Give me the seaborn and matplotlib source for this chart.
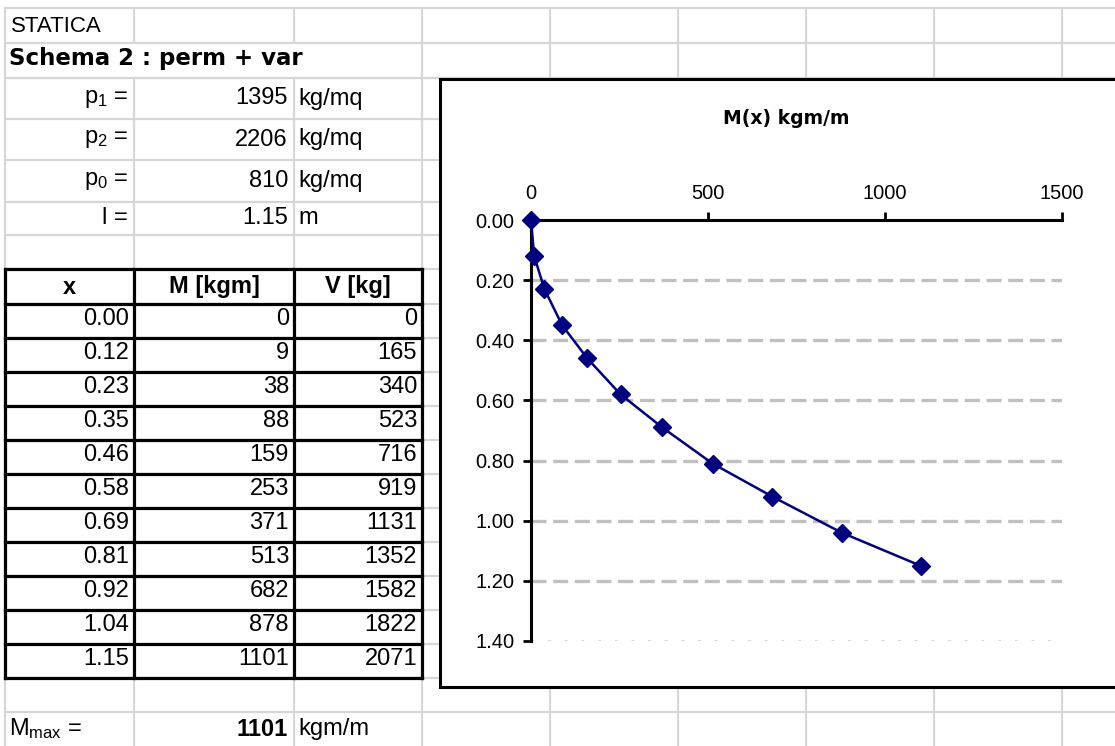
import matplotlib
matplotlib.use("Agg")
import matplotlib.pyplot as plt
from matplotlib.patches import Rectangle
import numpy as np
import pandas as pd
import seaborn as sns

# ---------------- data ----------------
sheet_title = "STATICA"
scheme_title = "Schema 2 : perm + var"
param_labels = [r"p$_1$ =", r"p$_2$ =", r"p$_0$ =", "l ="]
param_values = ["1395", "2206", "810", "1.15"]
param_units = ["kg/mq", "kg/mq", "kg/mq", "m"]
table_headers = ["x", "M [kgm]", "V [kg]"]
x_pos = [0.00, 0.12, 0.23, 0.35, 0.46, 0.58, 0.69, 0.81, 0.92, 1.04, 1.15]
moment = [0, 9, 38, 88, 159, 253, 371, 513, 682, 878, 1101]
shear = [0, 165, 340, 523, 716, 919, 1131, 1352, 1582, 1822, 2071]
m_max_label = r"M$_{\mathrm{max}}$ ="
m_max_value = "1101"
m_max_unit = "kgm/m"
chart_title = "M(x) kgm/m"
x_ticks = [0, 500, 1000, 1500]
y_ticks = [0.0, 0.2, 0.4, 0.6, 0.8, 1.0, 1.2, 1.4]

# ---------------- style ----------------
sns.set_theme(style="white")
plt.rcParams["font.family"] = ["Liberation Sans", "DejaVu Sans"]
plt.rcParams["mathtext.fontset"] = "custom"
plt.rcParams["mathtext.rm"] = "Liberation Sans"
plt.rcParams["mathtext.it"] = "Liberation Sans:italic"
plt.rcParams["mathtext.bf"] = "Liberation Sans:bold"
plt.rcParams["text.color"] = "black"
plt.rcParams["axes.labelcolor"] = "black"
plt.rcParams["xtick.color"] = "black"
plt.rcParams["ytick.color"] = "black"

W, H = 1115, 746
fig = plt.figure(figsize=(W / 100, H / 100), dpi=100)
fig.patch.set_facecolor("white")

bg = fig.add_axes([0, 0, 1, 1])
bg.set_xlim(0, W)
bg.set_ylim(H, 0)
bg.axis("off")

GRID = "#d6d6d6"
glw = 1.6
col_x = [5, 134, 294, 422, 550, 678, 806, 934, 1062]
data_rows = list(np.linspace(304, 678, len(x_pos) + 1))
row_y = [8, 43, 78, 119, 160, 202, 235, 269] + data_rows + [712]

# spreadsheet gridlines
for cx in col_x:
    if cx in (134, 294):
        bg.plot([cx, cx], [8, 43], color=GRID, lw=glw, zorder=1)
        bg.plot([cx, cx], [78, H], color=GRID, lw=glw, zorder=1)
    else:
        bg.plot([cx, cx], [8, H], color=GRID, lw=glw, zorder=1)
for ry in row_y:
    bg.plot([5, W], [ry, ry], color=GRID, lw=glw, zorder=1)

# chart box (over the grid)
bg.add_patch(Rectangle((440, 79), 700, 608, facecolor="white",
                       edgecolor="black", lw=2.2, zorder=3))

FS = 17
TXT = "black"
# header texts
bg.text(11, 26, sheet_title, fontsize=16, ha="left", va="center", zorder=4, color=TXT)
bg.text(9, 59, scheme_title, fontsize=16.5, fontweight="bold", ha="left",
        va="center", zorder=4, family=["DejaVu Sans"], color=TXT)

param_rows = [(78, 119), (119, 160), (160, 202), (202, 235)]
for (t, b), lab, val, unit in zip(param_rows, param_labels, param_values, param_units):
    yc = (t + b) / 2
    bg.text(128, yc, lab, fontsize=FS, ha="right", va="center", zorder=4, color=TXT)
    bg.text(288, yc, val, fontsize=FS, ha="right", va="center", zorder=4, color=TXT)
    bg.text(298, yc, unit, fontsize=FS, ha="left", va="center", zorder=4, color=TXT)

# black table
tx = [5, 134, 294, 422]
ty = [269] + data_rows
for cx in tx:
    bg.plot([cx, cx], [269, 678], color="black", lw=2.3, zorder=4, solid_capstyle="projecting")
for ry in ty:
    bg.plot([5, 422], [ry, ry], color="black", lw=2.3, zorder=4, solid_capstyle="projecting")

for i, h in enumerate(table_headers):
    bg.text((tx[i] + tx[i + 1]) / 2, 287, h, fontsize=FS, fontweight="bold",
            ha="center", va="center", zorder=5, color=TXT)

for i, (xv, mv, vv) in enumerate(zip(x_pos, moment, shear)):
    yc = (data_rows[i] + data_rows[i + 1]) / 2 - 2
    bg.text(129, yc, f"{xv:.2f}", fontsize=FS, ha="right", va="center", zorder=5, color=TXT)
    bg.text(289, yc, f"{mv}", fontsize=FS, ha="right", va="center", zorder=5, color=TXT)
    bg.text(417, yc, f"{vv}", fontsize=FS, ha="right", va="center", zorder=5, color=TXT)

bg.text(9, 729, m_max_label, fontsize=FS, ha="left", va="center", zorder=4, color=TXT)
bg.text(288, 729, m_max_value, fontsize=FS, fontweight="bold", ha="right",
        va="center", zorder=4, color=TXT)
bg.text(298, 729, m_max_unit, fontsize=FS, ha="left", va="center", zorder=4, color=TXT)

# ---------------- chart ----------------
df = pd.DataFrame({"M": moment, "x": x_pos})
ax = fig.add_axes([531 / W, 1 - 641 / H, 531 / W, 421 / H])
ax.patch.set_alpha(0)
ax.set_zorder(10)
sns.lineplot(data=df, x="M", y="x", sort=False, ax=ax, color="#000080",
             marker="D", markersize=9.5, linewidth=1.8, markeredgecolor="#000080",
             markeredgewidth=1, clip_on=False, zorder=6)
ax.set_xlim(0, 1500)
ax.set_ylim(1.4, 0)
ax.xaxis.tick_top()
ax.set_xticks(x_ticks)
ax.set_xticklabels([str(v) for v in x_ticks])
ax.set_yticks(y_ticks)
ax.set_yticklabels([f"{v:.2f}" for v in y_ticks])
ax.set_xlabel("")
ax.set_ylabel("")
ax.tick_params(axis="both", direction="out", length=6, width=2, colors="black",
               labelcolor="black", labelsize=14.5, pad=6)
ax.tick_params(axis="x", top=True, bottom=False)
ax.tick_params(axis="y", left=True)
for s in ["right", "bottom"]:
    ax.spines[s].set_visible(False)
for s in ["top", "left"]:
    ax.spines[s].set_visible(True)
    ax.spines[s].set_color("black")
    ax.spines[s].set_linewidth(2.2)
ax.yaxis.grid(True, color="#c0c0c0", linestyle=(0, (4.5, 2)), linewidth=2.4)
ax.xaxis.grid(False)
ax.set_axisbelow(True)
gl = ax.get_ygridlines()
gl[0].set_visible(False)
gl[-1].set_color("#d0d0d0")
gl[-1].set_linestyle((0, (1, 5)))
gl[-1].set_linewidth(2)

fig.text(786 / W, 1 - 118 / H, chart_title, ha="center", va="center",
         fontsize=13.5, fontweight="bold", family=["DejaVu Sans"], color="black")

fig.savefig("out.png", dpi=100, facecolor="white")
